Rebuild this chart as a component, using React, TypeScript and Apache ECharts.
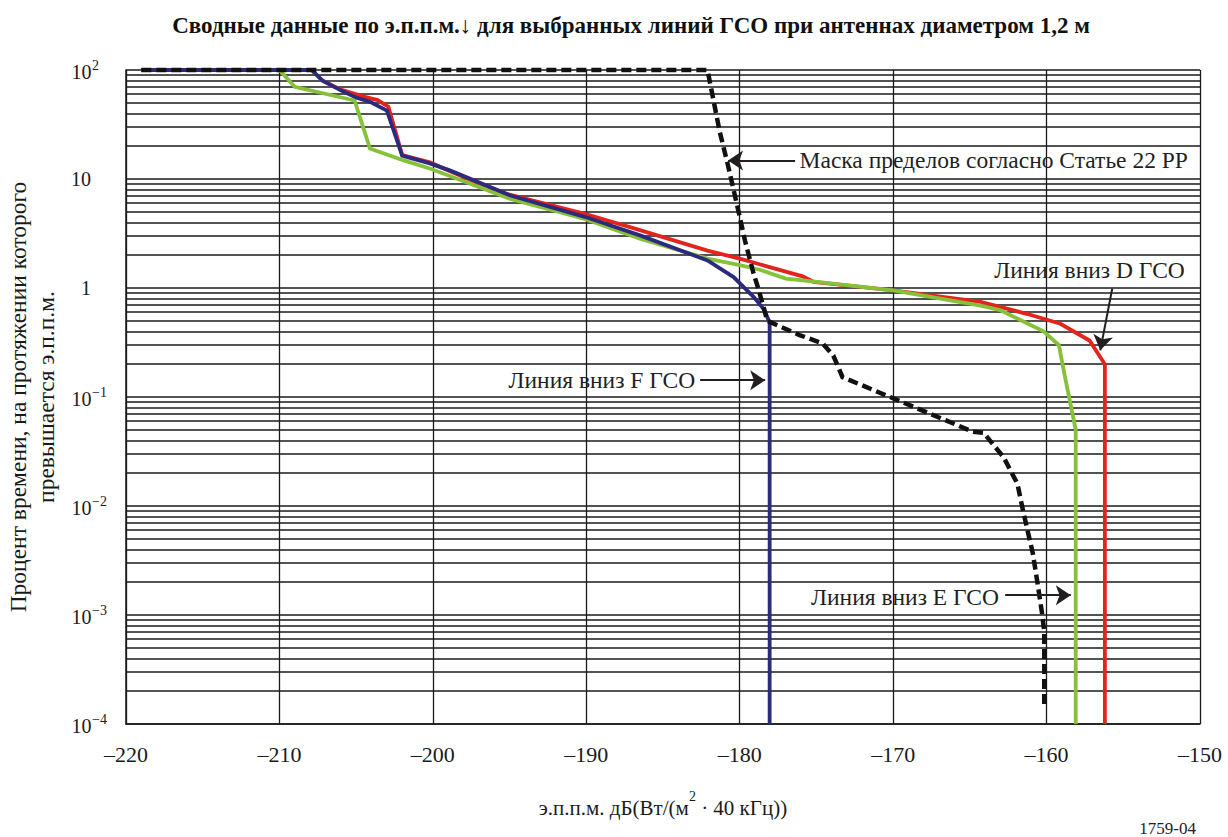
import React, { useEffect, useRef } from 'react';
import * as echarts from 'echarts';

const FONT = 'Liberation Serif, serif';
const INK = '#1a1a1a';

// ---- texts ----
const TITLE = 'Сводные данные по э.п.п.м.↓ для выбранных линий ГСО при антеннах диаметром 1,2 м';
const X_NAME_PARTS = ['э.п.п.м. дБ(Вт/(м', '2', ' · 40 кГц))'];
const Y_NAME_LINES = ['Процент времени, на протяжении которого', 'превышается э.п.п.м.'];
const FIGURE_ID = '1759-04';

// ---- axes ----
const X_MIN = -220;
const X_MAX = -150;
const X_STEP = 10;
const Y_MIN = 0.0001;
const Y_MAX = 100;
const Y_TICK_POWERS = [-4, -3, -2, -1, 0, 1, 2];
const Y_TICK_BASE = ['10', '10', '10', '10', '1', '10', '10'];
const Y_TICK_EXP = ['−4', '−3', '−2', '−1', '', '', '2'];

// ---- series: [epfd dB(W/(m2·40kHz)), % of time exceeded] ----
const downlinkD: [number, number][] = [
  [-207.9, 100], [-207.2, 80], [-206, 66], [-204.5, 57], [-203.6, 53], [-202.9, 46],
  [-202, 16.6], [-200.2, 14.2], [-197.4, 9.6], [-195.2, 7.3], [-190.1, 4.8], [-186.5, 3.4],
  [-182.1, 2.2], [-180, 1.86], [-178.7, 1.65], [-175.9, 1.28], [-175.2, 1.14], [-170, 0.95],
  [-164.3, 0.745], [-161.3, 0.58], [-159.1, 0.47], [-157.2, 0.33], [-156.2, 0.2], [-156.2, 0.0001],
];
const downlinkE: [number, number][] = [
  [-210, 100], [-209, 70], [-205.1, 52.5], [-204.1, 19], [-201.9, 14.8], [-200.2, 12.5],
  [-197.6, 9.1], [-195, 6.6], [-190.1, 4.3], [-186.5, 2.84], [-182.1, 1.86], [-180, 1.62],
  [-178.7, 1.47], [-177, 1.22], [-174.8, 1.13], [-170, 0.95], [-164.3, 0.69], [-163, 0.625],
  [-160.2, 0.4], [-159.2, 0.3], [-158.8, 0.153], [-158.1, 0.05], [-158.1, 0.0001],
];
const downlinkF: [number, number][] = [
  [-219, 100], [-207.9, 100], [-207.2, 80], [-206, 65], [-205, 56], [-204.1, 51], [-203, 42.5],
  [-202, 16.4], [-200.2, 13.9], [-198.9, 12], [-197.6, 10.1], [-195, 7.1], [-190.1, 4.5],
  [-186.5, 3.04], [-182.1, 1.79], [-180.4, 1.26], [-179.1, 0.83], [-178.4, 0.63], [-178.05, 0.48],
  [-178.05, 0.0001],
];
const article22Mask: [number, number][] = [
  [-219, 100], [-182.1, 100], [-181.7, 52], [-181.3, 27], [-180.8, 14], [-180.2, 6],
  [-179.65, 2.7], [-179.1, 1.36], [-178.8, 1.0], [-178.2, 0.5], [-176.1, 0.37], [-174.6, 0.31],
  [-173.9, 0.24], [-173.3, 0.152], [-170.2, 0.1], [-164.8, 0.048], [-164.1, 0.047], [-163.7, 0.04],
  [-162.8, 0.028], [-161.9, 0.016], [-161.5, 0.0086], [-160.9, 0.0037], [-160.6, 0.002],
  [-160.3, 0.00105], [-160.15, 0.0007], [-160.15, 0.00014],
];

// ---- annotations (data coordinates) ----
const NOTE_TEXTS = [
  'Маска пределов согласно Статье 22 РР',
  'Линия вниз D ГСО',
  'Линия вниз F ГСО',
  'Линия вниз E ГСО',
];
const NOTE_ANCHORS: [number, number][] = [[-176.1, 14.8], [-157.2, 1.45], [-182.9, 0.142], [-163.1, 0.00146]];
const NOTE_SIDES = ['right', 'inside', 'left', 'left'];
const ARROW_FROM: [number, number][] = [[-176.39, 14.8], [-155.72, 0.99], [-182.58, 0.1426], [-162.7, 0.00152]];
const ARROW_TO: [number, number][] = [[-180.76, 14.8], [-156.5, 0.268], [-178.34, 0.1426], [-158.42, 0.00152]];

export default function App() {
  const ref = useRef<HTMLDivElement>(null);
  useEffect(() => {
    if (!ref.current) return;
    const chart = echarts.init(ref.current, undefined, { renderer: 'svg' });
    const lineSeries = (name: string, data: [number, number][], color: string, width: number, type: any = 'solid') => ({
      name,
      type: 'line',
      data,
      showSymbol: false,
      symbol: 'none',
      clip: false,
      silent: true,
      lineStyle: { color, width, type, cap: 'butt', join: 'miter' },
    });
    const option: any = {
      animation: false,
      backgroundColor: '#ffffff',
      title: {
        text: TITLE,
        left: 626,
        textAlign: 'center',
        top: 9,
        textStyle: { fontFamily: FONT, fontWeight: 'bold', fontSize: 23, color: '#111' },
      },
      grid: { left: 126, top: 70, width: 1074, height: 654, containLabel: false, outerBoundsMode: 'none' },
      xAxis: {
        type: 'value',
        min: X_MIN,
        max: X_MAX,
        interval: X_STEP,
        name: `${X_NAME_PARTS[0]}{sup|${X_NAME_PARTS[1]}}${X_NAME_PARTS[2]}`,
        nameLocation: 'middle',
        nameGap: 65,
        nameTextStyle: {
          fontFamily: FONT, fontSize: 21, color: INK, lineHeight: 38,
          rich: { sup: { fontFamily: FONT, fontSize: 14, color: INK, lineHeight: 14, verticalAlign: 'top' } },
        },
        axisLine: { show: true, lineStyle: { color: INK, width: 1.5 } },
        axisTick: { show: false },
        axisLabel: {
          margin: 19,
          fontFamily: FONT,
          fontSize: 22,
          color: INK,
          formatter: (v: number) => String(v).replace('-', '–'),
        },
        splitLine: { show: true, lineStyle: { color: INK, width: 1.3 } },
      },
      yAxis: {
        type: 'log',
        logBase: 10,
        min: Y_MIN,
        max: Y_MAX,
        name: Y_NAME_LINES.join('\n'),
        nameLocation: 'middle',
        nameRotate: 90,
        nameGap: 63,
        nameTextStyle: { fontFamily: FONT, fontSize: 23.5, lineHeight: 28, color: INK },
        axisLine: { show: true, lineStyle: { color: INK, width: 1.5 } },
        axisTick: { show: false },
        minorTick: { show: false, splitNumber: 9 },
        minorSplitLine: { show: true, lineStyle: { color: INK, width: 1.6 } },
        splitLine: { show: true, lineStyle: { color: INK, width: 1.6 } },
        axisLabel: {
          margin: 54,
          align: 'left',
          formatter: (v: number) => {
            const p = Math.round(Math.log10(v));
            const i = Y_TICK_POWERS.indexOf(p);
            if (i < 0) return '';
            return Y_TICK_EXP[i] ? `{b|${Y_TICK_BASE[i]}}{s|${Y_TICK_EXP[i]}}` : `{n|${Y_TICK_BASE[i]}}`;
          },
          rich: {
            b: { fontFamily: FONT, fontSize: 20, color: INK, width: 19, align: 'right', lineHeight: 24, padding: [4, 0, 0, 0], verticalAlign: 'bottom' },
            s: { fontFamily: FONT, fontSize: 14, color: INK, lineHeight: 12, verticalAlign: 'top', padding: [0, 0, 0, 1] },
            n: { fontFamily: FONT, fontSize: 20, color: INK, width: 19, align: 'right', lineHeight: 20 },
          },
        },
      },
      graphic: [
        {
          type: 'text',
          right: 32,
          top: 820,
          style: { text: FIGURE_ID, font: `17px ${FONT}`, fill: '#222' },
        },
      ],
      series: [
        lineSeries('Линия вниз D ГСО', downlinkD, '#e1251b', 3.8),
        lineSeries('Линия вниз E ГСО', downlinkE, '#86c13a', 3.8),
        lineSeries('Линия вниз F ГСО', downlinkF, '#2c2a7e', 3.8),
        {
          ...lineSeries('Маска пределов согласно Статье 22 РР', article22Mask, '#111111', 4.5, [10, 5]),
          markLine: {
            silent: true,
            symbol: ['none', 'arrow'],
            symbolSize: 15,
            label: { show: false },
            lineStyle: { color: '#231f20', width: 2, type: 'solid' },
            data: ARROW_FROM.map((f, i) => [{ coord: f }, { coord: ARROW_TO[i] }]),
          },
          markPoint: {
            silent: true,
            symbol: 'circle',
            symbolSize: 0,
            data: NOTE_TEXTS.map((t, i) => ({
              name: t,
              coord: NOTE_ANCHORS[i],
              label: {
                show: true,
                position: NOTE_SIDES[i],
                distance: 0,
                formatter: '{b}',
                fontFamily: FONT,
                fontSize: 23.5,
                color: '#231f20',
              },
            })),
          },
        },
      ],
    };
    chart.setOption(option);
    return () => chart.dispose();
  }, []);
  return (
    <div
      ref={ref}
      style={{ position: 'fixed', left: 0, top: 0, width: 1228, height: 837, background: '#fff' }}
    />
  );
}
